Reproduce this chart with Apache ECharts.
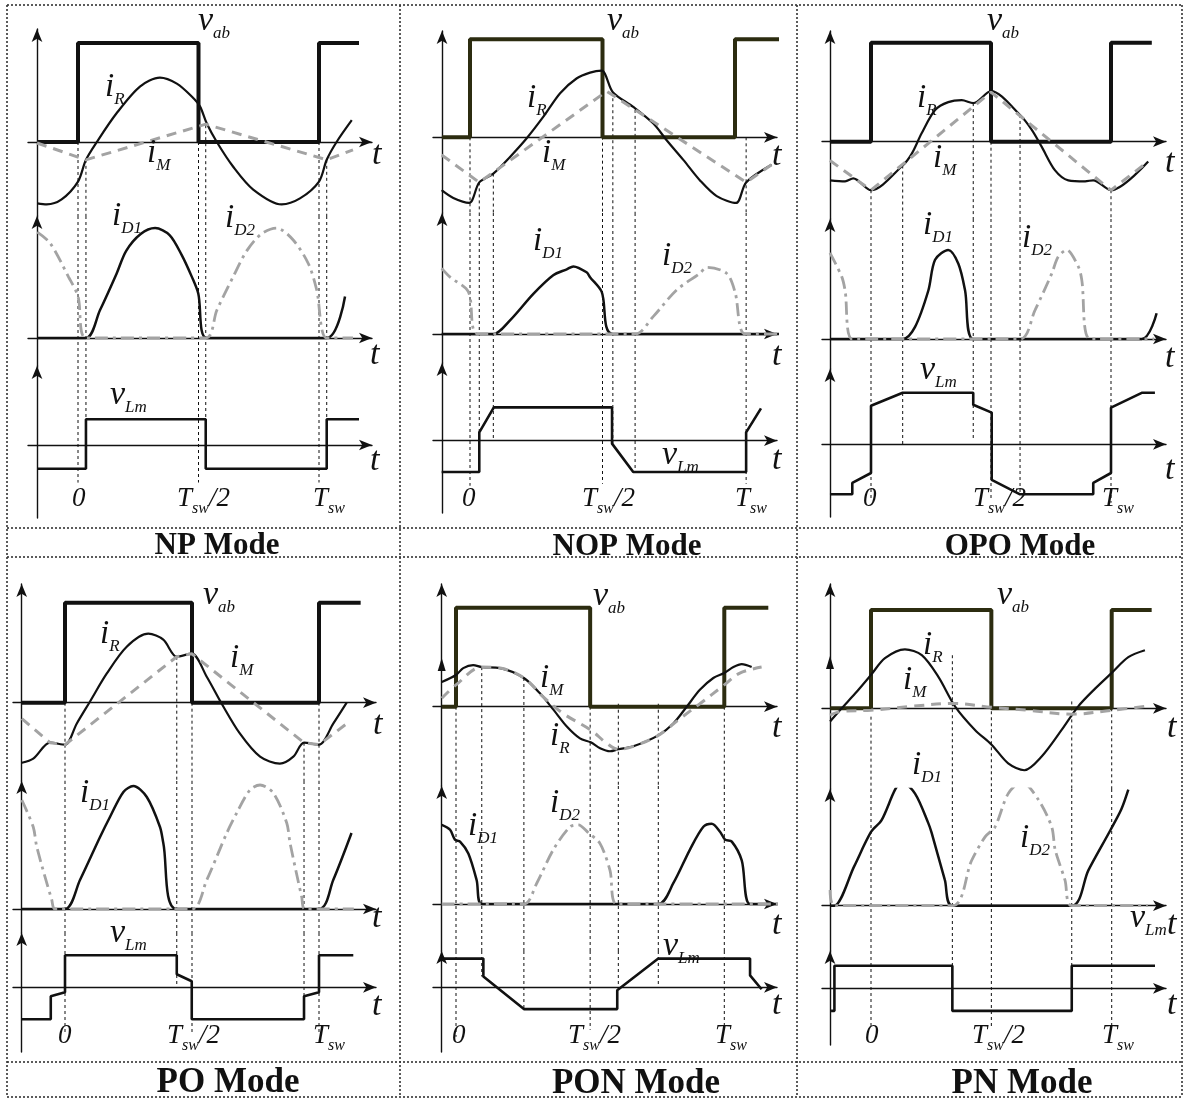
<!DOCTYPE html>
<html>
<head>
<meta charset="utf-8">
<title>Operating modes - key waveforms</title>
<script src="https://cdn.jsdelivr.net/npm/echarts@6.0.0/dist/echarts.min.js"></script>
<style>
  html, body { margin: 0; padding: 0; background: #fff; }
  #main { width: 1184px; height: 1099px; }
</style>
</head>
<body>
<div id="main"></div>
<script>
// time in units of Tsw (0 = rising edge of v_ab), amplitude scaled so that v_ab = 1

// ---- NP mode
const npVab = [[-0.17,0],[0,0],[0,1],[0.5,1],[0.5,0],[1,0],[1,1],[1.166,1]];
const npIR = [[-0.169,-0.62],[-0.13,-0.63],[-0.068,-0.58],[0,-0.40],[0.033,-0.18],[0.078,0],[0.16,0.29],[0.257,0.56],[0.34,0.65],[0.41,0.59],[0.472,0.46],[0.506,0.36],[0.534,0.19],[0.576,0],[0.644,-0.25],[0.727,-0.48],[0.845,-0.63],[0.921,-0.57],[1,-0.40],[1.032,-0.18],[1.073,0],[1.136,0.22]];
const npIM = [[-0.17,-0.01],[0.033,-0.18],[0.53,0.18],[1.032,-0.18],[1.141,-0.08]];
const npID1 = [[-0.17,0],[0.033,0],[0.091,0.28],[0.16,0.65],[0.2,0.88],[0.26,1.05],[0.32,1.11],[0.38,1.04],[0.43,0.84],[0.472,0.62],[0.499,0.45],[0.534,0],[1.032,0],[1.108,0.42]];
const npID2 = [[-0.169,1.07],[-0.116,0.96],[-0.04,0.62],[0,0.42],[0.033,0],[0.53,0],[0.576,0.28],[0.644,0.62],[0.7,0.88],[0.76,1.05],[0.824,1.11],[0.893,0.99],[0.956,0.75],[0.99,0.49],[1.032,0],[1.141,0]];
const npVLm = [[-0.17,-0.24],[0.033,-0.24],[0.033,0.26],[0.53,0.26],[0.53,-0.24],[1.032,-0.24],[1.032,0.26],[1.166,0.26]];
const npGuides = [[0,0,-0.38],[0.033,-0.18,-0.24],[0.5,0,-0.38],[0.53,0.17,-0.24],[1,0,-0.38],[1.032,-0.18,-0.24]];

// ---- NOP mode
const nopVab = [[-0.106,0],[0,0],[0,1],[0.5,1],[0.5,0],[1,0],[1,1],[1.17,1]];
const nopIR = [[-0.107,-0.54],[-0.063,-0.62],[-0.003,-0.67],[0.035,-0.46],[0.088,-0.37],[0.151,-0.2],[0.214,-0.01],[0.277,0.21],[0.34,0.45],[0.402,0.6],[0.453,0.66],[0.497,0.68],[0.539,0.46],[0.616,0.31],[0.692,0.14],[0.742,-0.03],[0.805,-0.23],[0.868,-0.44],[0.931,-0.6],[1.004,-0.67],[1.042,-0.46],[1.138,-0.28]];
const nopIM = [[-0.107,-0.18],[0.035,-0.46],[0.516,0.47],[1.042,-0.46],[1.138,-0.28]];
const nopID1 = [[-0.107,0],[0.088,0],[0.151,0.14],[0.239,0.41],[0.314,0.6],[0.365,0.66],[0.39,0.69],[0.44,0.63],[0.453,0.58],[0.497,0.43],[0.539,0],[1.18,0]];
const nopID2 = [[-0.107,0.67],[-0.075,0.58],[-0.006,0.43],[0.031,0],[0.623,0],[0.692,0.18],[0.78,0.45],[0.868,0.62],[0.893,0.68],[0.968,0.62],[1.0,0.43],[1.038,0],[1.18,0]];
const nopVLm = [[-0.107,-0.32],[0.035,-0.32],[0.035,0.085],[0.09,0.34],[0.536,0.34],[0.536,-0.03],[0.616,-0.32],[1.042,-0.32],[1.042,0.085],[1.098,0.33]];
const nopGuides = [[0,0,-0.46],[0.035,-0.46,-0.32],[0.088,-0.37,0],[0.5,0.68,-0.44],[0.539,0.46,-0.03],[0.623,0.28,-0.32],[1.042,0,-0.44]];

// ---- OPO mode
const opoVab = [[-0.171,0],[0,0],[0,1],[0.5,1],[0.5,0],[1,0],[1,1],[1.17,1]];
const opoIR = [[-0.171,-0.39],[-0.108,-0.40],[-0.074,-0.37],[0,-0.49],[0.132,-0.24],[0.17,-0.12],[0.211,0.085],[0.267,0.32],[0.322,0.40],[0.378,0.42],[0.426,0.39],[0.5,0.51],[0.621,0.27],[0.67,0.12],[0.711,-0.05],[0.767,-0.29],[0.822,-0.39],[0.892,-0.40],[0.926,-0.39],[1.0,-0.49],[1.155,-0.2]];
const opoIM = [[-0.171,-0.19],[0,-0.49],[0.5,0.50],[1,-0.49],[1.155,-0.2]];
const opoID1 = [[-0.171,0],[0.132,0],[0.183,0.12],[0.239,0.49],[0.267,0.8],[0.322,0.9],[0.364,0.76],[0.392,0.49],[0.426,0],[1.128,0],[1.19,0.26]];
const opoID2 = [[-0.171,0.87],[-0.122,0.63],[-0.108,0.49],[-0.078,0],[0.621,0],[0.683,0.29],[0.753,0.66],[0.78,0.83],[0.815,0.9],[0.864,0.73],[0.878,0.6],[0.913,0],[1.18,0]];
const opoVLm = [[-0.171,-0.505],[-0.078,-0.505],[-0.078,-0.39],[0,-0.29],[0,0.39],[0.132,0.52],[0.426,0.52],[0.426,0.40],[0.503,0.32],[0.503,-0.36],[0.621,-0.505],[0.926,-0.505],[0.926,-0.39],[1,-0.29],[1,0.37],[1.128,0.52],[1.183,0.52]];
const opoGuides = [[0,-0.49,-0.56],[0.132,-0.24,0],[0.426,0.39,0.04],[0.5,0,-0.56],[0.621,0.27,-0.5],[1,-0.49,-0.59]];

// ---- PO mode
const poVab = [[-0.17,0],[0,0],[0,1],[0.5,1],[0.5,0],[1,0],[1,1],[1.164,1]];
const poIR = [[-0.17,-0.6],[-0.125,-0.56],[-0.059,-0.40],[0,-0.42],[0.046,-0.21],[0.098,0.01],[0.164,0.29],[0.243,0.56],[0.328,0.69],[0.387,0.63],[0.44,0.46],[0.499,0.49],[0.558,0.26],[0.617,-0.01],[0.689,-0.31],[0.768,-0.54],[0.846,-0.61],[0.899,-0.54],[0.941,-0.40],[1,-0.42],[1.056,-0.21],[1.109,0]];
const poIM = [[-0.17,-0.16],[-0.059,-0.40],[0,-0.42],[0.44,0.46],[0.499,0.49],[0.941,-0.40],[1,-0.42],[1.109,-0.21]];
const poID1 = [[-0.17,0],[0,0],[0.059,0.29],[0.138,0.72],[0.177,0.92],[0.23,1.17],[0.269,1.23],[0.322,1.12],[0.374,0.82],[0.387,0.66],[0.44,0],[1,0],[1.056,0.29],[1.128,0.76]];
const poID2 = [[-0.17,1.09],[-0.125,0.82],[-0.111,0.62],[-0.052,0.09],[-0.039,0],[0.499,0],[0.558,0.29],[0.637,0.76],[0.676,0.96],[0.728,1.19],[0.768,1.24],[0.82,1.16],[0.873,0.86],[0.886,0.66],[0.932,0.12],[0.945,0],[1.137,0]];
const poVLm = [[-0.17,-0.32],[-0.056,-0.32],[-0.056,-0.09],[0,-0.05],[0,0.32],[0.44,0.32],[0.44,0.13],[0.499,0.06],[0.499,-0.32],[0.941,-0.32],[0.941,-0.09],[1,-0.05],[1,0.32],[1.135,0.32]];
const poGuides = [[0,0,-0.46],[0.44,0.46,0],[0.5,0,-0.46],[0.941,-0.40,-0.09],[1,0,-0.46]];

// ---- PON mode
const ponVab = [[-0.053,0],[0,0],[0,1],[0.5,1],[0.5,0],[1,0],[1,1],[1.164,1]];
const ponIR = [[-0.053,0.25],[0,0.32],[0.027,0.39],[0.064,0.42],[0.096,0.40],[0.164,0.39],[0.253,0.29],[0.313,0.135],[0.363,-0.03],[0.413,-0.2],[0.462,-0.32],[0.502,-0.36],[0.537,-0.42],[0.574,-0.45],[0.605,-0.43],[0.661,-0.40],[0.754,-0.29],[0.81,-0.17],[0.86,0],[0.909,0.17],[0.959,0.29],[1,0.34],[1.034,0.40],[1.065,0.43],[1.102,0.40]];
const ponIM = [[-0.053,0.085],[0,0.22],[0.096,0.40],[0.164,0.39],[0.253,0.29],[0.325,0.10],[0.4,-0.07],[0.502,-0.235],[0.562,-0.37],[0.605,-0.43],[0.661,-0.40],[0.754,-0.29],[0.835,-0.12],[0.909,0.03],[1,0.22],[1.058,0.34],[1.139,0.40]];
const ponID1 = [[-0.053,0.80],[-0.022,0.75],[-0.004,0.65],[0.015,0.63],[0.046,0.51],[0.077,0.24],[0.096,0],[0.754,0],[0.81,0.21],[0.872,0.55],[0.922,0.78],[0.953,0.81],[0.984,0.73],[1.003,0.65],[1.028,0.63],[1.065,0.44],[1.096,0],[1.2,0]];
const ponID2 = [[-0.053,0],[0.253,0],[0.301,0.21],[0.363,0.55],[0.425,0.78],[0.456,0.80],[0.493,0.72],[0.537,0.61],[0.574,0.34],[0.599,0],[1.2,0]];
const ponVLm = [[-0.053,0.29],[0.102,0.29],[0.102,0.11],[0.253,-0.22],[0.601,-0.22],[0.601,-0.03],[0.754,0.29],[1.096,0.29],[1.096,0.12],[1.139,-0.02]];
const ponGuides = [[0,0,-0.5],[0.096,0.40,0.11],[0.253,0.29,-0.22],[0.5,0,-0.43],[0.605,0.03,-0.03],[0.754,0.03,0],[1,0,-0.43]];

// ---- PN mode
const pnVab = [[-0.17,0],[0,0],[0,1],[0.5,1],[0.5,0],[1,0],[1,1],[1.166,1]];
const pnIR = [[-0.17,-0.135],[-0.122,0],[-0.066,0.15],[0,0.34],[0.058,0.51],[0.141,0.60],[0.211,0.54],[0.28,0.32],[0.349,0.02],[0.432,-0.22],[0.501,-0.37],[0.57,-0.56],[0.637,-0.63],[0.709,-0.49],[0.792,-0.22],[0.861,0.02],[0.931,0.20],[1,0.36],[1.069,0.52],[1.138,0.59]];
const pnIM = [[-0.17,-0.07],[-0.122,-0.03],[0,-0.02],[0.169,0.02],[0.342,0.05],[0.501,0.01],[0.653,-0.02],[0.834,-0.06],[1,-0.02],[1.138,0.02]];
const pnID1 = [[-0.17,0],[-0.152,0],[-0.07,0.4],[0,0.75],[0.044,0.87],[0.1,1.18],[0.128,1.26],[0.183,1.14],[0.238,0.84],[0.252,0.74],[0.307,0.26],[0.338,0],[0.834,0],[0.903,0.36],[0.995,0.77],[1.04,0.98],[1.069,1.18]];
const pnID2 = [[-0.17,0.16],[-0.152,0],[0.338,0],[0.418,0.46],[0.474,0.70],[0.515,0.80],[0.57,1.14],[0.626,1.26],[0.695,1.08],[0.751,0.80],[0.765,0.57],[0.806,0.26],[0.834,0],[1.15,0]];
const pnVLm = [[-0.166,-0.23],[-0.152,-0.23],[-0.152,0.23],[0.338,0.23],[0.338,-0.23],[0.834,-0.23],[0.834,0.23],[1.18,0.23]];
const pnGuides = [[0,-0.085,-0.39],[0.338,0.54,-0.23],[0.5,-0.03,-0.39],[0.834,0.07,-0.23],[1,0,-0.39]];

// ---- layout (pixels) and annotations
const FONT = '"Liberation Serif", "Times New Roman", serif';
const BLACK = '#111';
const GREY = '#a3a3a3';
const OLIVE = '#2c2c10';

const panels = [
  { caption: 'NP Mode', cap: [217, 557, 31], vabColor: BLACK, iMSmooth: false,
    d: { vab: npVab, iR: npIR, iM: npIM, iD1: npID1, iD2: npID2, vLm: npVLm }, guides: npGuides,
    box: { xs: 28, x0: 37, xe: 372, p0: 78, p1: 319, scale: 99, tops: [29, 216, 366], zeros: [142, 338, 445], bottom: 518 },
    labels: [['v','ab',198,33],['i','R',105,99],['i','M',147,165],['i','D1',112,228],['i','D2',225,230],['v','Lm',110,407]],
    ts: [[372,167],[370,367],[370,473]], times: [[72,508],[177,508],[313,508]] },
  { caption: 'NOP Mode', cap: [627, 558, 31], vabColor: OLIVE, iMSmooth: false,
    d: { vab: nopVab, iR: nopIR, iM: nopIM, iD1: nopID1, iD2: nopID2, vLm: nopVLm }, guides: nopGuides,
    box: { xs: 433, x0: 442, xe: 777, p0: 470, p1: 735, scale: 98, tops: [31, 213, 363], zeros: [137.3, 334, 440.7], bottom: 513 },
    labels: [['v','ab',607,33],['i','R',527,110],['i','M',542,165],['i','D1',533,253],['i','D2',662,268],['v','Lm',662,467]],
    ts: [[772,168],[772,368],[772,472]], times: [[462,508],[582,508],[735,508]] },
  { caption: 'OPO Mode', cap: [1020, 558, 31], vabColor: BLACK, iMSmooth: false,
    d: { vab: opoVab, iR: opoIR, iM: opoIM, iD1: opoID1, iD2: opoID2, vLm: opoVLm }, guides: opoGuides,
    box: { xs: 822, x0: 830, xe: 1166, p0: 871, p1: 1111, scale: 99, tops: [31, 219, 369], zeros: [141.7, 339, 444.3], bottom: 517 },
    labels: [['v','ab',987,33],['i','R',917,110],['i','M',933,170],['i','D1',923,237],['i','D2',1022,250],['v','Lm',920,382]],
    ts: [[1165,175],[1165,370],[1165,482]], times: [[863,508],[973,508],[1102,508]] },
  { caption: 'PO Mode', cap: [228, 1095, 35], vabColor: BLACK, iMSmooth: false,
    d: { vab: poVab, iR: poIR, iM: poIM, iD1: poID1, iD2: poID2, vLm: poVLm }, guides: poGuides,
    box: { xs: 13, x0: 21.7, xe: 376, p0: 65, p1: 319, scale: 100, tops: [584, 781, 933], zeros: [702.7, 909, 987.3], bottom: 1052 },
    labels: [['v','ab',203,607],['i','R',100,646],['i','M',230,670],['i','D1',80,805],['v','Lm',110,945]],
    ts: [[373,737],[372,930],[372,1018]], times: [[58,1045],[167,1045],[313,1045]] },
  { caption: 'PON Mode', cap: [636, 1096, 35], vabColor: OLIVE, iMSmooth: 0.35,
    d: { vab: ponVab, iR: ponIR, iM: ponIM, iD1: ponID1, iD2: ponID2, vLm: ponVLm }, guides: ponGuides,
    box: { xs: 433, x0: 441.7, xe: 777, p0: 456, p1: 724.3, scale: 99, tops: [584, 786, 951], zeros: [706.7, 904, 987.3], bottom: 1052 },
    labels: [['v','ab',593,608],['i','M',540,690],['i','R',550,748],['i','D2',550,815],['i','D1',468,838],['v','Lm',663,958]],
    ts: [[772,740],[772,937],[772,1017]], times: [[452,1045],[568,1045],[715,1045]], extraArrow: 665 },
  { caption: 'PN Mode', cap: [1022, 1096, 35], vabColor: OLIVE, iMSmooth: 0.35,
    d: { vab: pnVab, iR: pnIR, iM: pnIM, iD1: pnID1, iD2: pnID2, vLm: pnVLm }, guides: pnGuides,
    box: { xs: 822, x0: 830, xe: 1166, p0: 871, p1: 1111.7, scale: 98.3, tops: [584, 789, 951], zeros: [708.3, 905.7, 988.3], bottom: 1045 },
    labels: [['v','ab',997,607],['i','R',923,657],['i','M',903,692],['i','D1',912,777],['i','D2',1020,850],['v','Lm',1130,930]],
    ts: [[1167,740],[1167,937],[1167,1017]], times: [[865,1045],[972,1045],[1102,1045]], extraArrow: 663 }
];

const ctx = document.createElement('canvas').getContext('2d');
function textWidth(s, size, weight) {
  ctx.font = (weight || 'italic') + ' ' + size + 'px ' + FONT;
  return ctx.measureText(s).width;
}
// base = text baseline in pixels
function txt(x, base, s, size, opts) {
  opts = opts || {};
  const weight = opts.weight || 'italic';
  return {
    type: 'text', silent: true, x: x, y: base - 0.34 * size, z: 50,
    style: {
      text: s, font: weight + ' ' + size + 'px ' + FONT, fill: BLACK,
      align: opts.align || 'left', textAlign: opts.align || 'left',
      verticalAlign: 'middle', textVerticalAlign: 'middle'
    }
  };
}
function symbol(main, sub, tail, x, base, size, subSize) {
  const out = [txt(x, base, main, size)];
  let w = textWidth(main, size);
  if (sub) { out.push(txt(x + w, base + 6, sub, subSize)); w += textWidth(sub, subSize); }
  if (tail) out.push(txt(x + w, base, tail, size));
  return out;
}

const grids = [], xAxes = [], yAxes = [], series = [], graphics = [];
const axisLine = { color: BLACK, width: 1.4 };

panels.forEach(function (p) {
  const b = p.box, T = b.p1 - b.p0;
  const xmin = (b.xs - b.p0) / T, xmax = (b.xe - b.p0) / T;
  const ext = [], gIdx = [];
  for (let r = 0; r < 3; r++) {
    const top = b.tops[r], bot = r < 2 ? b.tops[r + 1] : b.bottom;
    const ymax = (b.zeros[r] - top) / b.scale, ymin = (b.zeros[r] - bot) / b.scale;
    const gi = grids.length;
    ext.push([ymin, ymax]); gIdx.push(gi);
    grids.push({ left: b.xs, top: top, width: b.xe - b.xs, height: bot - top, outerBoundsMode: 'none' });
    xAxes.push({ gridIndex: gi, type: 'value', min: xmin, max: xmax,
      axisLine: { onZero: true, lineStyle: axisLine, symbol: ['none', 'arrow'], symbolSize: [8, 13] },
      axisTick: { show: false }, axisLabel: { show: false }, splitLine: { show: false } });
    yAxes.push({ gridIndex: gi, type: 'value', min: ymin, max: ymax, offset: -(b.x0 - b.xs),
      axisLine: { onZero: false, lineStyle: axisLine, symbol: ['none', 'arrow'], symbolSize: [8, 13] },
      axisTick: { show: false }, axisLabel: { show: false }, splitLine: { show: false } });
  }
  function line(gi, data, style, smooth, z) {
    series.push({ type: 'line', xAxisIndex: gi, yAxisIndex: gi, data: data, showSymbol: false, symbol: 'none',
      smooth: smooth || false, silent: true, lineStyle: style, z: z || 3, animation: false });
  }
  // dashed timing guides through the three sub-plots
  const gStyle = { color: BLACK, width: 1, type: [3, 3] };
  p.guides.forEach(function (g) {
    line(gIdx[0], [[g[0], g[1]], [g[0], ext[0][0]]], gStyle, false, 1);
    line(gIdx[1], [[g[0], ext[1][1]], [g[0], ext[1][0]]], gStyle, false, 1);
    line(gIdx[2], [[g[0], ext[2][1]], [g[0], g[2]]], gStyle, false, 1);
  });
  line(gIdx[0], p.d.vab, { color: p.vabColor, width: 4 }, false, 3);
  line(gIdx[0], p.d.iR, { color: BLACK, width: 2.2 }, 0.3, 4);
  line(gIdx[0], p.d.iM, { color: GREY, width: 3, type: [10, 7] }, p.iMSmooth, 5);
  line(gIdx[1], p.d.iD1, { color: BLACK, width: 2.5 }, 0.3, 4);
  line(gIdx[1], p.d.iD2, { color: GREY, width: 2.8, type: [13, 5, 3, 5] }, 0.3, 5);
  line(gIdx[2], p.d.vLm, { color: BLACK, width: 2.6 }, false, 4);

  // annotations
  p.labels.forEach(function (l) {
    const big = l[0] === 'v' ? 34 : 33;
    symbol(l[0], l[1], '', l[2], l[3], big, 17).forEach(function (e) { graphics.push(e); });
  });
  p.ts.forEach(function (t) { graphics.push(txt(t[0], t[1], 't', 34)); });
  graphics.push(txt(p.times[0][0], p.times[0][1], '0', 27));
  symbol('T', 'sw', '/2', p.times[1][0], p.times[1][1], 27, 16).forEach(function (e) { graphics.push(e); });
  symbol('T', 'sw', '', p.times[2][0], p.times[2][1], 27, 16).forEach(function (e) { graphics.push(e); });
  graphics.push(txt(p.cap[0], p.cap[1], p.caption, p.cap[2], { weight: 'bold', align: 'center' }));
  if (p.extraArrow) {
    const x = b.x0, y = p.extraArrow;
    graphics.push({ type: 'polygon', silent: true, z: 10, shape: { points: [[x, y - 7], [x - 4, y + 6], [x + 4, y + 6]] }, style: { fill: BLACK } });
  }
});

// dotted table frame
const frame = { stroke: '#333', lineWidth: 1.6, lineDash: [2, 2] };
[[7, 5, 1182, 5], [7, 528, 1182, 528], [7, 557, 1182, 557], [7, 1062, 1182, 1062], [7, 1097, 1182, 1097],
 [7, 5, 7, 1097], [400, 5, 400, 1097], [797, 5, 797, 1097], [1182, 5, 1182, 1097]].forEach(function (s) {
  graphics.push({ type: 'line', silent: true, z: 0, shape: { x1: s[0], y1: s[1], x2: s[2], y2: s[3] }, style: frame });
});

const chart = echarts.init(document.getElementById('main'), null, { renderer: 'canvas' });
chart.setOption({
  animation: false,
  backgroundColor: '#fff',
  grid: grids,
  xAxis: xAxes,
  yAxis: yAxes,
  series: series,
  graphic: { elements: graphics }
});
window.onresize = function () { chart.resize(); };
</script>
</body>
</html>
